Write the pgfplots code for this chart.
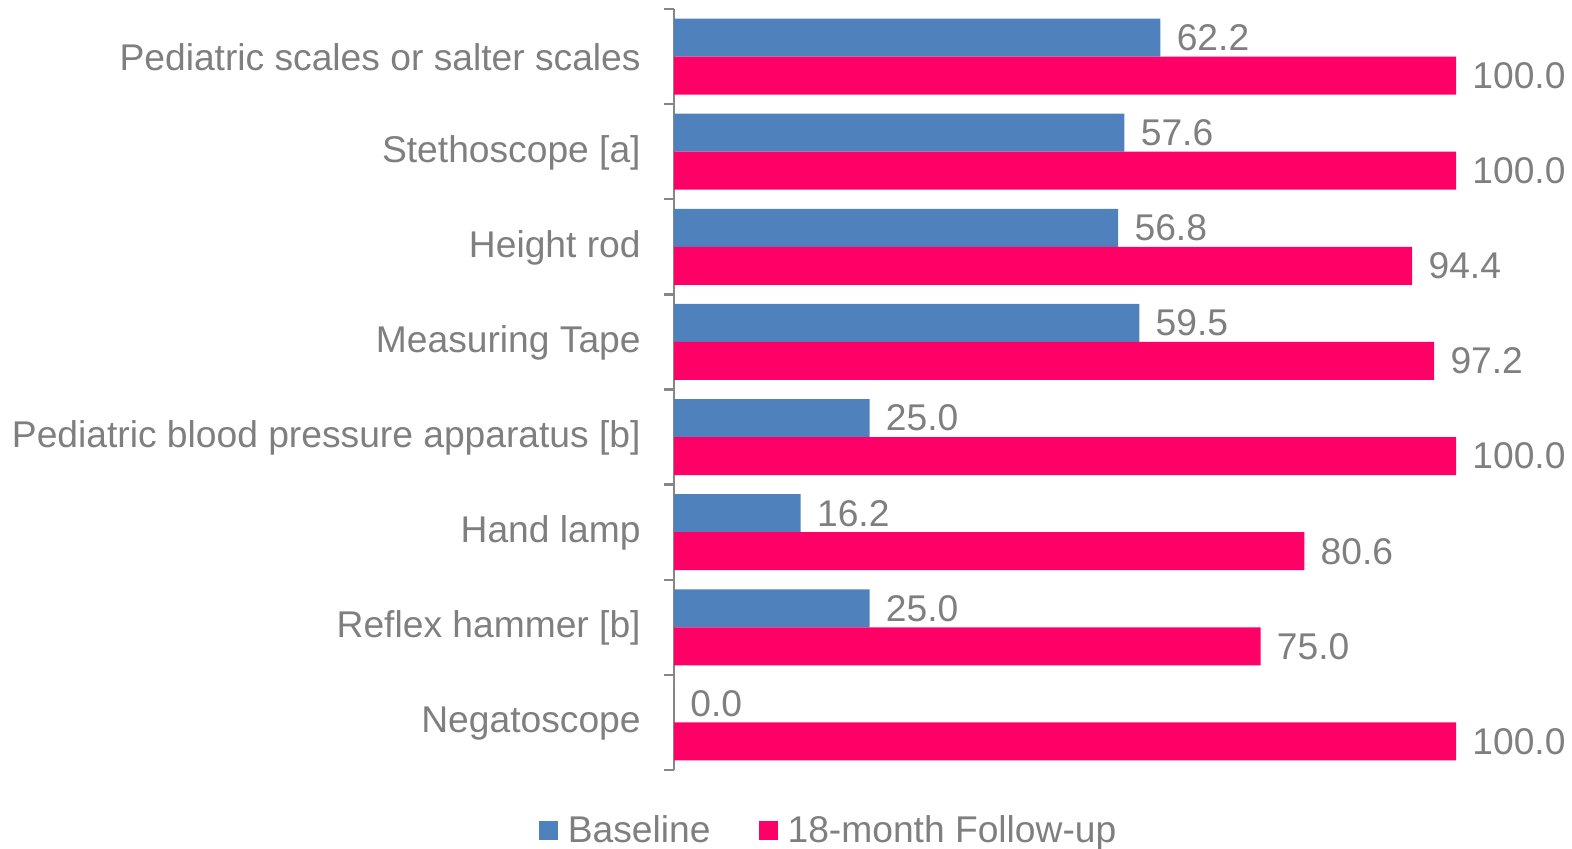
\documentclass[border=0pt]{standalone}
\usepackage{pgfplots}
\pgfplotsset{compat=1.18}
\usepackage{fontspec}
\setmainfont{Liberation Sans}
\definecolor{cblue}{HTML}{4F81BD}
\definecolor{cred}{HTML}{FF0066}
\definecolor{ctext}{HTML}{7F7F7F}
\definecolor{caxis}{HTML}{868686}
\begin{document}
\begin{tikzpicture}
\path[use as bounding box] (0pt,0pt) rectangle (786pt,424pt);
\begin{axis}[
  at={(337pt,39pt)}, anchor=south west,
  scale only axis, width=391pt, height=380.5pt,
  xmin=0, xmax=100, ymin=-0.5, ymax=7.5,
  xbar, bar width=19pt,
  axis x line=none,
  axis y line*=left,
  y axis line style={color=caxis, line width=1.2pt},
  ytick={0,...,7},
  yticklabels={Negatoscope, Reflex hammer [b], Hand lamp, Pediatric blood pressure apparatus [b], Measuring Tape, Height rod, Stethoscope [a], Pediatric scales or salter scales},
  major tick length=0pt,
  minor ytick={-0.5,0.5,...,7.5},
  minor tick length=5pt,
  tick align=outside,
  minor tick style={color=caxis, line width=1.2pt},
  yticklabel style={font=\fontsize{18.6}{22}\selectfont, color=ctext, inner sep=0pt, xshift=-16.5pt, yshift=-0.5pt},
  /pgf/number format/assume math mode=true,
  point meta=x,
  nodes near coords={\pgfmathprintnumber[fixed,fixed zerofill,precision=1]{\pgfplotspointmeta}},
  every node near coord/.append style={font=\fontsize{18.6}{22}\selectfont, color=ctext, inner sep=0pt, anchor=west, xshift=8pt},
  legend columns=2,
  legend style={at={(0.199,-0.079)}, anchor=center, draw=none, fill=none,
    font=\fontsize{18.6}{22}\selectfont, text=ctext,
    /tikz/every odd column/.append style={column sep=3pt},
    /tikz/every even column/.append style={column sep=22pt}},
  legend image code/.code={\fill[#1] (0pt,-4.75pt) rectangle (9.5pt,4.75pt);},
  clip=false,
]
\addplot[fill=cblue, draw=none, bar shift=9.5pt] coordinates {
  (0.0,0) (25.0,1) (16.2,2) (25.0,3) (59.5,4) (56.8,5) (57.6,6) (62.2,7)};
\addlegendentry{Baseline}
\addplot[fill=cred, draw=none, bar shift=-9.5pt] coordinates {
  (100.0,0) (75.0,1) (80.6,2) (100.0,3) (97.2,4) (94.4,5) (100.0,6) (100.0,7)};
\addlegendentry{18-month Follow-up}
\end{axis}
\end{tikzpicture}
\end{document}
